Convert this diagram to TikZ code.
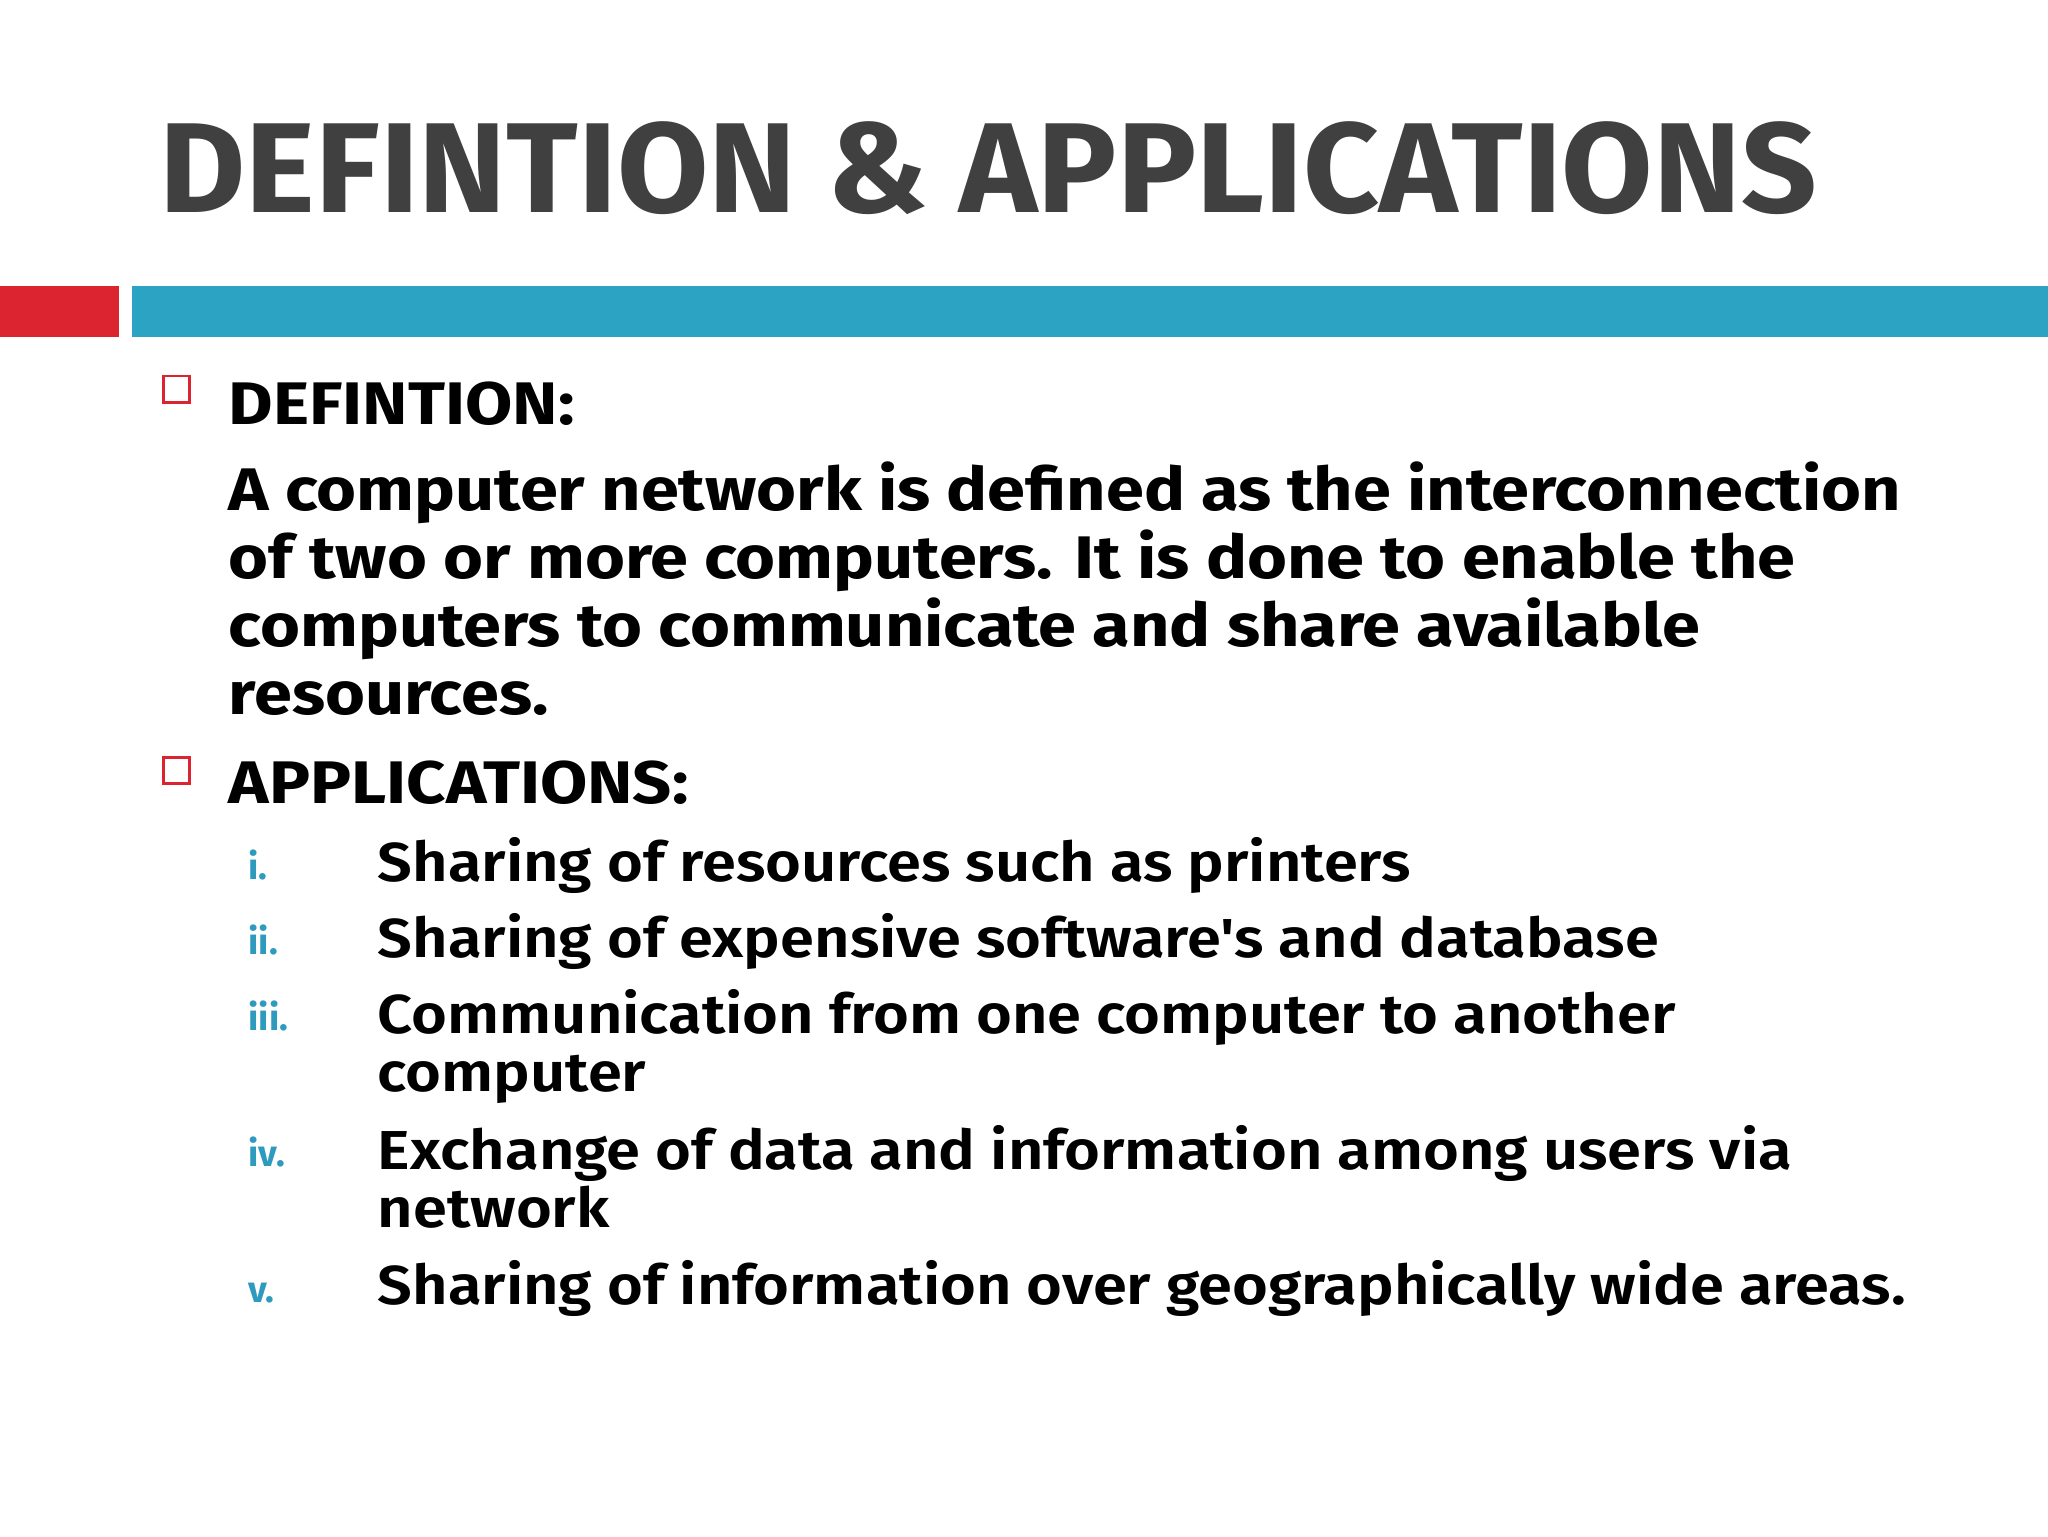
\documentclass[tikz,border=0pt]{standalone}
\usepackage{fontspec}
\setmainfont{Fira Sans}[UprightFont=* SemiBold,BoldFont=* Bold]
\newfontfamily\bodyf{Fira Sans Bold}[FakeStretch=1.14]
\newfontfamily\itemf{Fira Sans SemiBold}[FakeStretch=1.12]
\newfontfamily\titlef{Fira Sans Bold}[FakeStretch=1.035]
\definecolor{tgrey}{HTML}{404040}
\definecolor{bred}{HTML}{DC2330}
\definecolor{bblue}{HTML}{2DA3C3}
\definecolor{nblue}{HTML}{2E9BBE}
\begin{document}
\begin{tikzpicture}[x=1pt,y=-1pt,
  ln/.style={anchor=base west,inner sep=0pt,font=\fontsize{46}{52}\selectfont\bodyf},
  it/.style={anchor=base west,inner sep=0pt,font=\fontsize{42}{46}\selectfont\itemf},
  num/.style={anchor=base west,inner sep=0pt,text=nblue,font=\fontsize{28}{30}\selectfont\bfseries},
  bx/.style={draw=bred,line width=2pt,minimum size=20pt,inner sep=0pt}]
\useasboundingbox[fill=white] (0,0) rectangle (1568,1176);
\node[anchor=base west,inner sep=0pt,text=tgrey,font=\fontsize{98}{100}\selectfont\titlef] (title) at (122,163) {DEFINTION \& APPLICATIONS};
\fill[bred] (0,219) rectangle (91,258);
\fill[bblue] (101,219) rectangle (1568,258);
\node[bx] (b1) at (135,298) {};
\node[ln] (d) at (175,325) {DEFINTION:};
\node[ln] (l1) at (175,391) {A computer network is defined as the interconnection};
\node[ln] (l2) at (175,443) {of two or more computers. It is done to enable the};
\node[ln] (l3) at (175,495) {computers to communicate and share available};
\node[ln] (l4) at (175,547) {resources.};
\node[bx] (b2) at (135,590) {};
\node[ln] (a) at (175,615) {APPLICATIONS:};
\node[num] (n1) at (190,673) {i.};
\node[it] (i1) at (289,675) {Sharing of resources such as printers};
\node[num] (n2) at (190,731) {ii.};
\node[it] (i2) at (289,733) {Sharing of expensive software{\char"27}s and database};
\node[num] (n3) at (190,789) {iii.};
\node[it] (i3) at (289,791) {Communication from one computer to another};
\node[it] (i3b) at (289,836) {computer};
\node[num] (n4) at (190,893) {iv.};
\node[it] (i4) at (289,895) {Exchange of data and information among users via};
\node[it] (i4b) at (289,940) {network};
\node[num] (n5) at (190,997) {v.};
\node[it] (i5) at (289,999) {Sharing of information over geographically wide areas.};
\end{tikzpicture}
\end{document}
